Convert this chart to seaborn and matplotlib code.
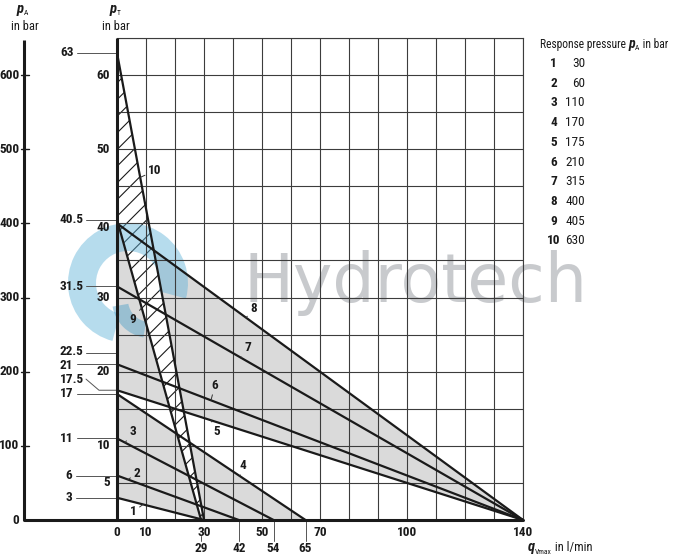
import numpy as np
import pandas as pd
import matplotlib
matplotlib.use('Agg')
import matplotlib.pyplot as plt
import matplotlib.transforms as mtransforms
from matplotlib.patches import Wedge
import seaborn as sns

curve_ids = [1, 2, 3, 4, 5, 6, 7, 8, 9, 10]
response_pa = [30, 60, 110, 170, 175, 210, 315, 400, 405, 630]   # p_A in bar
p_start = [3, 6, 11, 17, 17.5, 21, 31.5, 40, 40.5, 63]           # p_T at q = 0
q_end = [30, 42, 54, 65, 140, 140, 140, 140, 29, 30]              # q where p_T = 0

# curve number labels (q, p) and q where the leader meets the curve
label_q = [5.5, 6.9, 5.5, 43.4, 34.5, 33.8, 45.2, 47.2, 5.5, 13.1]
label_p = [1.1, 6.3, 12.0, 7.4, 11.9, 18.2, 23.3, 28.5, 27.1, 47.1]
anchor_q = [9, 3.8, 2.8, 42.4, 32.4, 32.4, 42.8, 44.5, 8.5, 8.0]

left_marks = [63, 40.5, 31.5, 22.5, 21, 17.5, 17, 11, 6, 3]
pt_ticks = [5, 10, 20, 30, 40, 50, 60]
pa_ticks = [0, 100, 200, 300, 400, 500, 600]
q_ticks = [0, 10, 30, 50, 70, 100, 140]
q_marks = [29, 42, 54, 65]

W, H = 674, 557
FS = 9.5

sns.set_theme(style="white")
plt.rcParams['font.family'] = ['Roboto Condensed', 'DejaVu Sans']
plt.rcParams['hatch.linewidth'] = 0.8

fig = plt.figure(figsize=(W / 100, H / 100), dpi=100)
ax = fig.add_axes([117 / W, 37 / H, 406 / W, 482 / H])
ax.set_xlim(0, 140)
ax.set_ylim(0, 65)

# pixel coords (origin top-left) for things outside the plot
px = mtransforms.Affine2D().scale(1 / W, -1 / H).translate(0, 1) + fig.transFigure
px_up = mtransforms.Affine2D().scale(1 / W, 1 / H) + fig.transFigure
x_px_y_data = mtransforms.blended_transform_factory(px, ax.transData)
x_data_y_px = mtransforms.blended_transform_factory(ax.transData, px)

ink = '#1a1a1a'
grid_c = '#3c3c3c'

# grid
ax.set_xticks(np.arange(0, 141, 10))
ax.set_yticks(np.arange(0, 66, 5))
ax.tick_params(length=0, labelleft=False, labelbottom=False)
ax.grid(True, color=grid_c, lw=0.8)
ax.set_axisbelow(False)
for s in ['left', 'bottom']:
    ax.spines[s].set_visible(False)
for s in ['top', 'right']:
    ax.spines[s].set_color(grid_c)
    ax.spines[s].set_linewidth(0.8)


def curve(i, q):
    return np.clip(p_start[i] * (1 - q / q_end[i]), 0, None)


# grey zones: between curves 1 and 4, between curves 5 and 8
q_lo = np.linspace(0, q_end[3], 400)
ax.fill_between(q_lo, curve(0, q_lo), curve(3, q_lo), color='#dadada', lw=0, zorder=1)
q_hi = np.linspace(0, q_end[7], 400)
ax.fill_between(q_hi, curve(4, q_hi), curve(7, q_hi), color='#dadada', lw=0, zorder=1)

# hatched band between curves 9 and 10
ax.fill([0, q_end[9], q_end[8], 0], [p_start[9], 0, 0, p_start[8]],
        facecolor='white', edgecolor=ink, hatch='//', lw=0, zorder=1.5)

# watermark
ax.text(415, 302, 'Hydrotech', transform=px, fontsize=48, family='DejaVu Sans',
        color='#bfc1c5', alpha=0.85, ha='center', va='baseline', zorder=2)
logo = Wedge((128, H - 283), 60, -15, 255, width=28, transform=px_up,
             facecolor='#5fb2d8', alpha=0.45, lw=0, zorder=2, clip_on=False)
ax.add_artist(logo)
logo2 = Wedge((150, H - 300), 38, 190, 260, width=16, transform=px_up,
              facecolor='#4a9fc8', alpha=0.45, lw=0, zorder=2, clip_on=False)
ax.add_artist(logo2)

# curves
rows = []
for cid, p0, qe in zip(curve_ids, p_start, q_end):
    rows.append({'curve': cid, 'q': 0, 'p': p0})
    rows.append({'curve': cid, 'q': qe, 'p': 0})
df = pd.DataFrame(rows)
sns.lineplot(data=df, x='q', y='p', units='curve', estimator=None, color=ink,
             lw=1.6, ax=ax, zorder=3, legend=False)
ax.set_xlabel('')
ax.set_ylabel('')

# curve numbers with leaders
for i, cid in enumerate(curve_ids):
    aq = anchor_q[i]
    ax.annotate(str(cid), xy=(aq, curve(i, aq)), xytext=(label_q[i], label_p[i]),
                ha='center', va='center', fontsize=FS, fontweight='bold', color=ink,
                arrowprops=dict(arrowstyle='-', lw=0.7, color='#333333',
                                shrinkA=0, shrinkB=0), zorder=4)

# main axes lines (p_T axis, q axis, p_A axis)
ax.plot([0, 0], [0, 65], color=ink, lw=2.2, zorder=4, clip_on=False, solid_capstyle='butt')
ax.plot([24, 523], [520, 520], color=ink, lw=2.2, transform=px, zorder=4, clip_on=False)
ax.plot([24, 24], [0, 64.7], color=ink, lw=2.2, transform=x_px_y_data, zorder=4, clip_on=False,
        solid_capstyle='butt')

# p_A scale
for v in pa_ticks:
    if v > 0:
        ax.plot([20.5, 28.5], [v / 10, v / 10], color=ink, lw=1.0,
                transform=x_px_y_data, clip_on=False)
    ax.text(19.5, v / 10, str(v), transform=x_px_y_data, ha='right', va='center',
            fontsize=FS, fontweight='bold', color=ink)

# p_T scale
for v in pt_ticks:
    off = -0.6 if v == 40 else 0
    ax.text(110, v + off, str(v), transform=x_px_y_data, ha='right', va='center',
            fontsize=FS, fontweight='bold', color=ink)

# marked p_T values on the left with leaders
nudge = {22.5: 0.2, 21: -0.15}
for v in left_marks:
    s = f'{v:g}'
    if v == 17.5:
        ax.text(60, 19.0, s, transform=x_px_y_data, ha='left', va='center',
                fontsize=FS, fontweight='bold', color=ink)
        ax.plot([86, 99, 117], [19.0, v, v], color='#555555', lw=0.7,
                transform=x_px_y_data, clip_on=False)
        continue
    ty = v + nudge.get(v, 0)
    if len(s) == 1:
        ax.text(72, ty, s, transform=x_px_y_data, ha='right', va='center',
                fontsize=FS, fontweight='bold', color=ink)
        x0 = 76
    else:
        ax.text(60, ty, s, transform=x_px_y_data, ha='left', va='center',
                fontsize=FS, fontweight='bold', color=ink)
        x0 = 86 if '.' in s else 77
    ax.plot([x0, 117], [v, v], color='#555555', lw=0.7,
            transform=x_px_y_data, clip_on=False)

# q scale
for v in q_ticks:
    ax.text(v, 532, str(v), transform=x_data_y_px, ha='center', va='center',
            fontsize=FS, fontweight='bold', color=ink)
for v in q_marks:
    y0 = 536 if v == 29 else 521
    ax.plot([v, v], [y0, 541], color='#555555', lw=0.7, transform=x_data_y_px, clip_on=False)
    ax.text(v, 549, str(v), transform=x_data_y_px, ha='center', va='center',
            fontsize=FS, fontweight='bold', color=ink)

renderer = fig.canvas.get_renderer()


def chain(x, y, parts):
    # puts text pieces one after another (symbol + subscript + words)
    for s, size, weight, style, dy in parts:
        t = fig.text(x, y + dy, s, transform=px, fontsize=size, fontweight=weight,
                     fontstyle=style, color=ink, ha='left', va='baseline')
        x += t.get_window_extent(renderer).width


chain(17, 13, [('p', 10.5, 'bold', 'italic', 0), ('A', 5.5, 'normal', 'normal', 2)])
fig.text(25, 26, 'in bar', transform=px, fontsize=9, ha='center', va='center', color=ink)
chain(110, 13, [('p', 10.5, 'bold', 'italic', 0), ('T', 5.5, 'normal', 'normal', 2)])
fig.text(116, 26, 'in bar', transform=px, fontsize=9, ha='center', va='center', color=ink)

chain(528, 551, [('q', 10.5, 'bold', 'italic', 0), ('Vmax', 5.5, 'normal', 'normal', 3),
                 (' in l/min', 9, 'normal', 'normal', 0)])

# legend table
chain(540, 48, [('Response pressure ', 8.3, 'normal', 'normal', 0),
                ('p', 10, 'bold', 'italic', 0), ('A', 5.5, 'normal', 'normal', 2),
                (' in bar', 8.3, 'normal', 'normal', 0)])
for k, (cid, pa) in enumerate(zip(curve_ids, response_pa)):
    y = 63.5 + k * 19.7
    fig.text(553.5, y, str(cid), transform=px, fontsize=FS, fontweight='bold',
             ha='center', va='center', color=ink)
    fig.text(585, y, str(pa), transform=px, fontsize=FS, ha='right', va='center', color=ink)

plt.savefig('out.png', dpi=100)
